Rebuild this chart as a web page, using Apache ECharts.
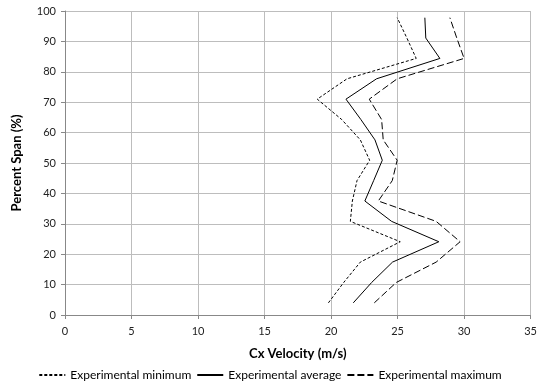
<!DOCTYPE html>
<html>
<head>
<meta charset="utf-8">
<script src="https://cdn.jsdelivr.net/npm/echarts@6/dist/echarts.min.js"></script>
<style>
html,body{margin:0;padding:0;background:#fff;}
#chart{width:540px;height:389px;}
</style>
</head>
<body>
<div id="chart"></div>
<script>
var spanPct = [4.0, 10.7, 17.4, 24.1, 30.8, 37.5, 44.2, 50.9, 57.6, 64.3, 71.0, 77.7, 84.4, 91.1, 97.8];
var minVel  = [19.8, 20.95, 22.2, 25.2, 21.45, 21.6, 21.95, 22.9, 22.2, 20.8, 18.96, 21.2, 26.4, 25.7, 24.97];
var avgVel  = [21.67, 23.05, 24.62, 28.1, 24.55, 22.54, 23.2, 23.85, 23.3, 22.24, 21.12, 23.42, 28.18, 27.12, 27.05];
var maxVel  = [23.25, 24.9, 27.9, 29.7, 27.9, 23.55, 24.6, 24.97, 23.92, 23.8, 22.87, 24.97, 30.0, 29.45, 28.93];
var seriesNames = ['Experimental minimum', 'Experimental average', 'Experimental maximum'];
var xName = 'Cx Velocity (m/s)';
var yName = 'Percent Span (%)';

function pairs(vals) {
  return vals.map(function (v, i) { return [v, spanPct[i]]; });
}

var FONT = 'Lato, "Liberation Sans", sans-serif';
var chart = echarts.init(document.getElementById('chart'), null, {renderer: 'canvas'});
chart.setOption({
  animation: false,
  backgroundColor: '#ffffff',
  textStyle: {fontFamily: FONT},
  grid: {left: 65, right: 9, top: 11, bottom: 74, containLabel: false},
  legend: {
    bottom: 3,
    left: 'center',
    itemWidth: 26,
    itemHeight: 10,
    itemGap: 5,
    itemStyle: {opacity: 0},
    textStyle: {fontFamily: FONT, fontSize: 12, color: '#000'},
    data: seriesNames
  },
  xAxis: {
    type: 'value', min: 0, max: 35, interval: 5,
    name: xName, nameLocation: 'middle', nameGap: 32,
    nameTextStyle: {fontFamily: FONT, fontSize: 13, fontWeight: 'bold', color: '#000'},
    axisLine: {show: true, lineStyle: {color: '#888', width: 1}},
    axisTick: {show: true, inside: false, length: 4, lineStyle: {color: '#888'}},
    axisLabel: {fontFamily: FONT, fontSize: 11, color: '#222', margin: 11},
    splitLine: {show: true, lineStyle: {color: '#bdbdbd', width: 1}}
  },
  yAxis: {
    type: 'value', min: 0, max: 100, interval: 10,
    name: yName, nameLocation: 'middle', nameGap: 42, nameRotate: 90,
    nameTextStyle: {fontFamily: FONT, fontSize: 13, fontWeight: 'bold', color: '#000'},
    axisLine: {show: true, lineStyle: {color: '#888', width: 1}},
    axisTick: {show: true, inside: false, length: 4, lineStyle: {color: '#888'}},
    axisLabel: {fontFamily: FONT, fontSize: 11, color: '#222', margin: 9},
    splitLine: {show: true, lineStyle: {color: '#bdbdbd', width: 1}}
  },
  series: [
    {name: seriesNames[0], type: 'line', data: pairs(minVel), symbol: 'none',
     lineStyle: {color: '#000', width: 1, type: [3, 2]}, itemStyle: {color: '#000'}},
    {name: seriesNames[1], type: 'line', data: pairs(avgVel), symbol: 'none',
     lineStyle: {color: '#000', width: 1, type: 'solid'}, itemStyle: {color: '#000'}},
    {name: seriesNames[2], type: 'line', data: pairs(maxVel), symbol: 'none',
     lineStyle: {color: '#000', width: 1, type: [7, 3]}, itemStyle: {color: '#000'}}
  ]
});
</script>
</body>
</html>
